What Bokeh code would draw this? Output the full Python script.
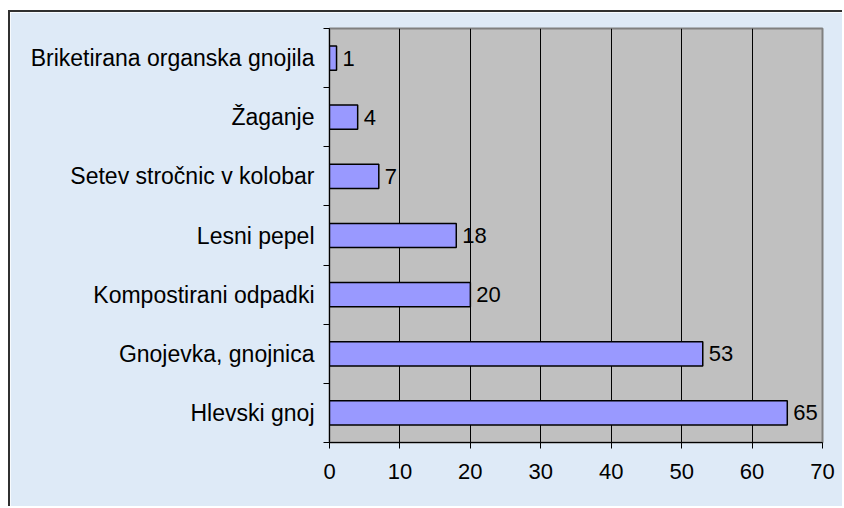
from bokeh.plotting import figure
from bokeh.models import FixedTicker, ColumnDataSource
from bokeh.core.properties import value
from bokeh.embed import file_html
from bokeh.resources import INLINE

# Data (bottom to top)
categories = ["Hlevski gnoj", "Gnojevka, gnojnica", "Kompostirani odpadki",
              "Lesni pepel", "Setev stročnic v kolobar", "Žaganje",
              "Briketirana organska gnojila"]
values = [65, 53, 20, 18, 7, 4, 1]
x_ticks = [0, 10, 20, 30, 40, 50, 60, 70]

FONT = "Liberation Sans"
FS = "22px"
BG = "#DEEAF7"

pos = [i + 0.5 for i in range(len(categories))]
src = ColumnDataSource(dict(y=pos, v=values, lab=[str(v) for v in values]))

p = figure(width=834, height=496, x_range=(0, 70), y_range=(0, len(categories)),
           output_backend="svg", toolbar_location=None,
           min_border_left=319, min_border_right=22, min_border_top=16, min_border_bottom=66)
p.margin = (10, 0, 0, 8)
p.styles = {"border-top": "2px solid #303030", "border-left": "2px solid #303030"}
p.background_fill_color = "#C0C0C0"
p.border_fill_color = BG
p.outline_line_color = "#808080"
p.outline_line_width = 2

p.hbar(y="y", right="v", left=0, height=0.41, source=src,
       fill_color="#9999FF", line_color="black", line_width=1.5)
p.text(x="v", y="y", text="lab", source=src, x_offset=6,
       text_baseline="middle", text_align="left",
       text_font=value(FONT), text_font_size=FS, text_color="black")

# x axis
p.xaxis.ticker = FixedTicker(ticks=x_ticks, minor_ticks=[])
p.xaxis.major_tick_in = 0
p.xaxis.major_tick_out = 6
p.xaxis.major_label_standoff = 15
p.xaxis.axis_line_color = "black"
p.xaxis.major_tick_line_color = "black"
p.xaxis.major_label_text_font = FONT
p.xaxis.major_label_text_font_size = FS
p.xaxis.major_label_text_color = "black"

# y axis: labels at band centres, tick marks at band boundaries
p.yaxis.ticker = FixedTicker(ticks=pos, minor_ticks=list(range(len(categories) + 1)))
p.yaxis.major_label_overrides = {pp: c for pp, c in zip(pos, categories)}
p.yaxis.major_tick_in = 0
p.yaxis.major_tick_out = 0
p.yaxis.minor_tick_in = 0
p.yaxis.minor_tick_out = 6
p.yaxis.minor_tick_line_color = "black"
p.yaxis.major_label_standoff = 9
p.yaxis.axis_line_color = "black"
p.yaxis.major_label_text_font = FONT
p.yaxis.major_label_text_font_size = "23px"
p.yaxis.major_label_text_color = "black"

p.xgrid.ticker = FixedTicker(ticks=x_ticks[1:-1], minor_ticks=[])
p.xgrid.grid_line_color = "black"
p.xgrid.grid_line_width = 1
p.ygrid.grid_line_color = None

open("out.html", "w").write(file_html(p, INLINE))
